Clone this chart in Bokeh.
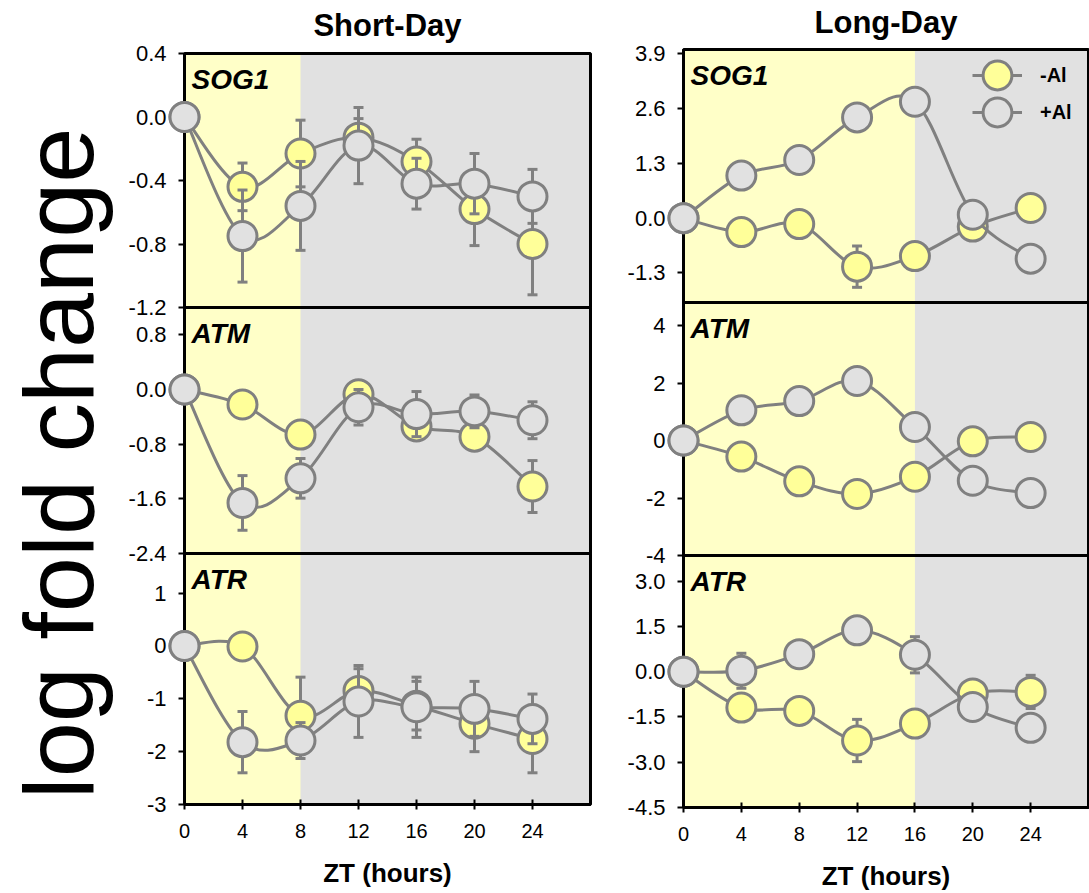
from bokeh.plotting import figure
from bokeh.models import (Range1d, FixedTicker, NumeralTickFormatter, BoxAnnotation,
                          Label, Legend, LegendItem, LinearAxis, ColumnDataSource)
from bokeh.embed import file_html
from bokeh.resources import INLINE

# ---- data -------------------------------------------------------------
zt = [0, 4, 8, 12, 16, 20, 24]

# Short-day
sd_sog1_minus = [0, -0.44, -0.23, -0.13, -0.28, -0.58, -0.80]
sd_sog1_minus_err = [0, 0.15, 0.21, 0.12, 0.14, 0.23, 0.32]
sd_sog1_plus = [0, -0.75, -0.56, -0.18, -0.42, -0.42, -0.50]
sd_sog1_plus_err = [0, 0.29, 0.28, 0.24, 0.16, 0.19, 0.17]

sd_atm_minus = [0, -0.22, -0.66, -0.07, -0.54, -0.69, -1.42]
sd_atm_minus_err = [0, 0.10, 0.10, 0.10, 0.19, 0.12, 0.38]
sd_atm_plus = [0, -1.66, -1.30, -0.26, -0.36, -0.32, -0.45]
sd_atm_plus_err = [0, 0.40, 0.29, 0.26, 0.33, 0.24, 0.27]

sd_atr_minus = [0, -0.01, -1.32, -0.85, -1.13, -1.47, -1.76]
sd_atr_minus_err = [0, 0.05, 0.73, 0.42, 0.46, 0.53, 0.64]
sd_atr_plus = [0, -1.82, -1.79, -1.05, -1.16, -1.19, -1.38]
sd_atr_plus_err = [0, 0.58, 0.34, 0.68, 0.57, 0.52, 0.47]

# Long-day
ld_sog1_minus = [0, -0.33, -0.14, -1.15, -0.90, -0.20, 0.24]
ld_sog1_minus_err = [0, 0.10, 0.10, 0.49, 0.10, 0.10, 0.10]
ld_sog1_plus = [0, 1.01, 1.38, 2.39, 2.76, 0.08, -0.96]
ld_sog1_plus_err = [0, 0.10, 0.10, 0.10, 0.10, 0.10, 0.10]

ld_atm_minus = [0, -0.56, -1.42, -1.86, -1.26, -0.03, 0.12]
ld_atm_minus_err = [0, 0.30, 0.30, 0.30, 0.30, 0.30, 0.30]
ld_atm_plus = [0, 1.05, 1.37, 2.07, 0.47, -1.40, -1.83]
ld_atm_plus_err = [0, 0.30, 0.30, 0.30, 0.30, 0.30, 0.30]

ld_atr_minus = [0, -1.19, -1.30, -2.28, -1.72, -0.72, -0.67]
ld_atr_minus_err = [0, 0.30, 0.30, 0.70, 0.30, 0.44, 0.55]
ld_atr_plus = [0, 0.03, 0.58, 1.37, 0.56, -1.17, -1.86]
ld_atr_plus_err = [0, 0.58, 0.30, 0.30, 0.60, 0.30, 0.30]

zt_ticks = [0, 4, 8, 12, 16, 20, 24]
sd_sog1_ticks = [-1.2, -0.8, -0.4, 0.0, 0.4]
sd_atm_ticks = [-2.4, -1.6, -0.8, 0.0, 0.8]
sd_atr_ticks = [-3, -2, -1, 0, 1]
ld_sog1_ticks = [-1.3, 0.0, 1.3, 2.6, 3.9]
ld_atm_ticks = [-4, -2, 0, 2, 4]
ld_atr_ticks = [-4.5, -3.0, -1.5, 0.0, 1.5, 3.0]

# ---- style ------------------------------------------------------------
FONT = "Liberation Sans"
W, H = 1089, 893
EDGE = "#808080"
YELLOW = "#ffff99"
GREY_FILL = "#e1e1e1"
DAY = "#ffffc8"
NIGHT = "#e1e1e1"
ZT_SPAN = (0, 28)

p = figure(width=W, height=H, output_backend="svg", toolbar_location=None,
           x_range=Range1d(0, W), y_range=Range1d(0, H),
           x_axis_type=None, y_axis_type=None,
           min_border_left=0, min_border_right=0, min_border_top=0, min_border_bottom=0)
p.outline_line_color = None
p.background_fill_color = "white"
p.grid.visible = False


def smooth_segments(xs, ys):
    """Cubic Bezier pieces of a Catmull-Rom style smoothed line through the points."""
    n = len(xs)
    out = {k: [] for k in ("x0", "y0", "x1", "y1", "cx0", "cy0", "cx1", "cy1")}
    for i in range(n - 1):
        a = max(i - 1, 0)
        b = min(i + 2, n - 1)
        out["x0"].append(xs[i]); out["y0"].append(ys[i])
        out["x1"].append(xs[i + 1]); out["y1"].append(ys[i + 1])
        out["cx0"].append(xs[i] + (xs[i + 1] - xs[a]) / 6.0)
        out["cy0"].append(ys[i] + (ys[i + 1] - ys[a]) / 6.0)
        out["cx1"].append(xs[i + 1] - (xs[b] - xs[i]) / 6.0)
        out["cy1"].append(ys[i + 1] - (ys[b] - ys[i]) / 6.0)
    return out


def panel(name, box, y_span, ticks, fmt, day_end, gene, minus, minus_err, plus, plus_err,
          show_x=False, title=None, title_offset=0):
    """One sub-panel: its own x/y ranges laid over the shared canvas, placed in `box`
    (left, top, right, bottom in canvas pixels)."""
    left, top, right, bottom = box
    x0, x1 = ZT_SPAN
    y0, y1 = y_span
    kx = (x1 - x0) / (right - left)
    ky = (y1 - y0) / (bottom - top)
    xr, yr = name + "_x", name + "_y"
    p.extra_x_ranges[xr] = Range1d(x0 - left * kx, x1 + (W - right) * kx)
    p.extra_y_ranges[yr] = Range1d(y0 - (H - bottom) * ky, y1 + top * ky)
    rng = dict(x_range_name=xr, y_range_name=yr)

    # night / day background and the panel frame
    p.add_layout(BoxAnnotation(left=x0, right=x1, bottom=y0, top=y1, fill_color=NIGHT,
                               fill_alpha=1, line_alpha=0, level="underlay", **rng))
    p.add_layout(BoxAnnotation(left=x0, right=day_end, bottom=y0, top=y1, fill_color=DAY,
                               fill_alpha=1, line_alpha=0, level="underlay", **rng))
    p.add_layout(BoxAnnotation(left=x0, right=x1, bottom=y0, top=y1, fill_alpha=0,
                               line_color="black", line_alpha=1, line_width=3,
                               level="underlay", **rng))

    ya = LinearAxis(fixed_location=x0, bounds=(y0, y1), ticker=FixedTicker(ticks=ticks),
                    formatter=NumeralTickFormatter(format=fmt), **rng)
    ya.axis_line_width = 3
    ya.axis_line_color = "black"
    ya.major_tick_line_width = 2
    ya.major_tick_line_color = "black"
    ya.major_tick_out = 6
    ya.major_tick_in = 0
    ya.minor_tick_line_color = None
    ya.major_label_standoff = 12
    ya.major_label_text_font = FONT
    ya.major_label_text_font_size = "22px"
    ya.major_label_text_color = "black"
    p.add_layout(ya, "left")

    if show_x:
        xa = LinearAxis(fixed_location=y0, bounds=(x0, x1), ticker=FixedTicker(ticks=zt_ticks),
                        **rng)
        xa.axis_line_width = 3
        xa.axis_line_color = "black"
        xa.major_tick_line_width = 2
        xa.major_tick_line_color = "black"
        xa.major_tick_out = 5
        xa.major_tick_in = 5
        xa.minor_tick_line_color = None
        xa.major_label_standoff = 14
        xa.major_label_text_font = FONT
        xa.major_label_text_font_size = "20px"
        xa.major_label_text_color = "black"
        xa.axis_label = "ZT (hours)"
        xa.axis_label_text_font = FONT
        xa.axis_label_text_font_style = "bold"
        xa.axis_label_text_font_size = "26px"
        xa.axis_label_text_color = "black"
        xa.axis_label_standoff = 17
        p.add_layout(xa, "below")

    renderers = {}
    for key, ys, es, fill in (("minus", minus, minus_err, YELLOW),
                              ("plus", plus, plus_err, GREY_FILL)):
        src = ColumnDataSource(dict(x=zt, y=ys,
                                    lo=[y - e for y, e in zip(ys, es)],
                                    hi=[y + e for y, e in zip(ys, es)]))
        seg = p.segment(x0="x", y0="lo", x1="x", y1="hi", source=src,
                        line_color=EDGE, line_width=3, level="overlay", **rng)
        for col in ("lo", "hi"):
            p.scatter(x="x", y=col, source=src, marker="dash", size=10,
                      line_color=EDGE, line_width=3, level="overlay", **rng)
        p.bezier(source=ColumnDataSource(smooth_segments(zt, ys)),
                 x0="x0", y0="y0", x1="x1", y1="y1",
                 cx0="cx0", cy0="cy0", cx1="cx1", cy1="cy1",
                 line_color=EDGE, line_width=3, level="overlay", **rng)
        mk = p.scatter(x="x", y="y", source=src, size=29, fill_color=fill,
                       line_color=EDGE, line_width=3, level="overlay", **rng)
        renderers[key] = (seg, mk)

    p.add_layout(Label(x=x0, y=y1, x_offset=7, y_offset=-10, text=gene,
                       text_font=FONT, text_font_style="bold italic", text_color="black",
                       text_font_size="28px", text_baseline="top", text_align="left", **rng))
    if title:
        p.add_layout(Label(x=(x0 + x1) / 2, y=y1, y_offset=title_offset, text=title,
                           text_font=FONT, text_font_style="bold", text_color="black",
                           text_font_size="31px", text_baseline="middle",
                           text_align="center", **rng))
    return renderers


panel("sd_sog1", (184, 53, 590, 307), (-1.2, 0.4), sd_sog1_ticks, "0.0", 8, "SOG1",
      sd_sog1_minus, sd_sog1_minus_err, sd_sog1_plus, sd_sog1_plus_err,
      title="Short-Day", title_offset=28)
panel("sd_atm", (184, 307, 590, 553), (-2.4, 1.2), sd_atm_ticks, "0.0", 8, "ATM",
      sd_atm_minus, sd_atm_minus_err, sd_atm_plus, sd_atm_plus_err)
panel("sd_atr", (184, 553, 590, 804), (-3, 1.75), sd_atr_ticks, "0", 8, "ATR",
      sd_atr_minus, sd_atr_minus_err, sd_atr_plus, sd_atr_plus_err, show_x=True)

r1 = panel("ld_sog1", (683, 49, 1088, 302), (-2.0, 4.0), ld_sog1_ticks, "0.0", 16, "SOG1",
           ld_sog1_minus, ld_sog1_minus_err, ld_sog1_plus, ld_sog1_plus_err,
           title="Long-Day", title_offset=27)
panel("ld_atm", (683, 302, 1088, 555), (-4, 4.8), ld_atm_ticks, "0", 16, "ATM",
      ld_atm_minus, ld_atm_minus_err, ld_atm_plus, ld_atm_plus_err)
panel("ld_atr", (683, 555, 1088, 807), (-4.5, 3.85), ld_atr_ticks, "0.0", 16, "ATR",
      ld_atr_minus, ld_atr_minus_err, ld_atr_plus, ld_atr_plus_err, show_x=True)


# Legend: one single-entry legend per sample glyph, so the circle can be drawn
# larger than the connecting line it sits on.
def legend_entry(label, renderer, glyph_w, standoff, pad_left, pad_top):
    return Legend(items=[LegendItem(label=label, renderers=[renderer])],
                  location="top_left", margin=0,
                  padding=dict(left=pad_left, right=0, top=pad_top, bottom=0),
                  background_fill_alpha=0, border_line_alpha=0,
                  glyph_width=glyph_w, glyph_height=72, label_standoff=standoff,
                  label_width=40, label_text_font=FONT, label_text_font_style="bold",
                  label_text_font_size="20px", label_text_color="black")


p.add_layout(legend_entry(" ", r1["minus"][0], 50, 18, 972, 39))
p.add_layout(legend_entry(" ", r1["plus"][0], 50, 18, 972, 76))
p.add_layout(legend_entry("-Al", r1["minus"][1], 72, 7, 961, 39))
p.add_layout(legend_entry("+Al", r1["plus"][1], 72, 7, 961, 76))

# Shared y-axis caption
p.add_layout(Label(x=58, y=H - 463, text="log fold change", angle=90, angle_units="deg",
                   text_font=FONT, text_font_size="99px", text_align="center",
                   text_baseline="middle", text_color="black"))

open("out.html", "w").write(file_html(p, INLINE))
